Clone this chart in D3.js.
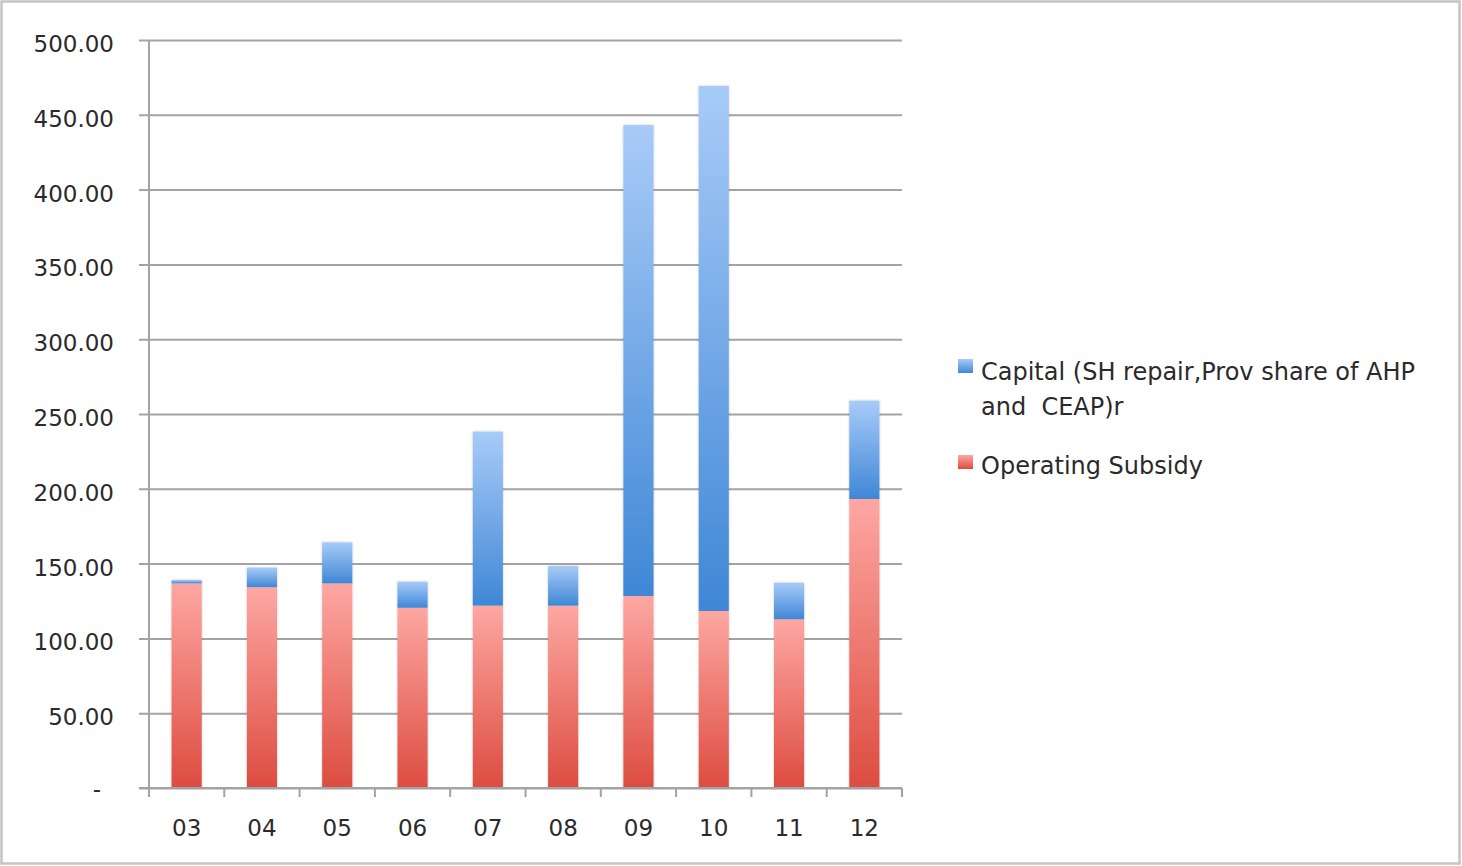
<!DOCTYPE html>
<html>
<head>
<meta charset="utf-8">
<script src="https://cdn.jsdelivr.net/npm/d3@7"></script>
<style>
  html, body { margin: 0; padding: 0; background: #fff; }
  svg { display: block; }
  text { font-family: "DejaVu Sans", sans-serif; fill: #2a2a2a; white-space: pre; }
</style>
</head>
<body>
<svg id="chart" width="1462" height="866"></svg>
<script>
const categories = ["03", "04", "05", "06", "07", "08", "09", "10", "11", "12"];
const operatingSubsidy = [136.8, 134.2, 136.8, 120.5, 121.9, 121.9, 128.3, 118.3, 112.8, 193.2];
const capital = [2.2, 13.1, 27.4, 17.4, 116.3, 26.5, 314.9, 351.0, 24.4, 65.7];
const yTicks = [0, 50, 100, 150, 200, 250, 300, 350, 400, 450, 500];
const seriesNames = ["Capital (SH repair,Prov share of AHP", "and  CEAP)r"];
const seriesName2 = "Operating Subsidy";

(function () {
const svg = d3.select("#chart");
const W = 1462, H = 866;

// outer frame
svg.append("rect").attr("x", 1.5).attr("y", 1.5).attr("width", W - 4).attr("height", H - 4)
  .attr("fill", "#fff").attr("stroke", "#c4c4c4").attr("stroke-width", 2.5);

const mLeft = 149, mRight = 902, mTop = 40, mBottom = 788;

const x = d3.scaleBand().domain(categories).range([mLeft, mRight]).paddingInner(0.6).paddingOuter(0.3);
const xb = d3.scaleBand().domain(categories).range([mLeft, mRight]).padding(0);
const y = d3.scaleLinear().domain([0, 500]).range([mBottom, mTop]);

const defs = svg.append("defs");
function grad(id, c1, c2) {
  const g = defs.append("linearGradient").attr("id", id).attr("x1", 0).attr("y1", 0).attr("x2", 0).attr("y2", 1);
  g.append("stop").attr("offset", "0%").attr("stop-color", c1);
  g.append("stop").attr("offset", "100%").attr("stop-color", c2);
}
grad("gRed", "#fda7a2", "#dd4c40");
grad("gBlue", "#a8cbf8", "#3f87d6");
const flt = defs.append("filter").attr("id", "sh").attr("x", "-20%").attr("y", "-5%").attr("width", "140%").attr("height", "110%");
flt.append("feGaussianBlur").attr("in", "SourceAlpha").attr("stdDeviation", 1.2).attr("result", "b");
flt.append("feComponentTransfer").attr("in", "b").attr("result", "o2").append("feFuncA").attr("type", "linear").attr("slope", 0.25);
const fm = flt.append("feMerge");
fm.append("feMergeNode").attr("in", "o2");
fm.append("feMergeNode").attr("in", "SourceGraphic");

// gridlines + y labels
const yAxis = d3.axisLeft(y).tickValues(yTicks).tickSize(-(mRight - mLeft)).tickSizeOuter(0)
  .tickFormat(d => d === 0 ? "-" : d3.format(".2f")(d));
const gy = svg.append("g").attr("transform", `translate(${mLeft},0)`).call(yAxis);
gy.select(".domain").remove();
gy.selectAll(".tick line").attr("x1", -10).attr("stroke", "#a3a3a3").attr("stroke-width", 2);
gy.selectAll(".tick text").attr("x", -35).attr("dy", "0.5em")
  .style("font-family", "DejaVu Sans").style("font-size", "23px").attr("fill", "#2a2a2a");
gy.selectAll(".tick").filter(d => d === 0).select("text").attr("x", -48).attr("dy", "0.35em");

// y axis line
svg.append("line").attr("x1", mLeft).attr("x2", mLeft).attr("y1", mTop).attr("y2", mBottom + 9)
  .attr("stroke", "#a3a3a3").attr("stroke-width", 2);

// bars
const stacked = categories.map((c, i) => ({ c, op: operatingSubsidy[i], cap: capital[i] }));
const gBars = svg.append("g").attr("filter", "url(#sh)");
gBars.selectAll("rect.op").data(stacked).join("rect").attr("class", "op")
  .attr("x", d => x(d.c)).attr("width", x.bandwidth())
  .attr("y", d => y(d.op)).attr("height", d => y(0) - y(d.op))
  .attr("fill", "url(#gRed)");
gBars.selectAll("rect.cap").data(stacked).join("rect").attr("class", "cap")
  .attr("x", d => x(d.c)).attr("width", x.bandwidth())
  .attr("y", d => y(d.op + d.cap)).attr("height", d => y(d.op) - y(d.op + d.cap))
  .attr("fill", "url(#gBlue)");

// x axis
const xAxis = d3.axisBottom(x).tickSize(0);
const gx = svg.append("g").attr("transform", `translate(0,${mBottom})`).call(xAxis);
gx.select(".domain").remove();
gx.selectAll(".tick text").attr("y", 48).attr("dy", "0")
  .style("font-family", "DejaVu Sans").style("font-size", "23px").attr("fill", "#2a2a2a");
svg.append("line").attr("x1", mLeft - 10).attr("x2", mRight).attr("y1", mBottom).attr("y2", mBottom)
  .attr("stroke", "#a3a3a3").attr("stroke-width", 2);
svg.selectAll("line.xt").data(categories.concat(["end"])).join("line").attr("class", "xt")
  .attr("x1", (d, i) => i < categories.length ? xb(d) : mRight)
  .attr("x2", (d, i) => i < categories.length ? xb(d) : mRight)
  .attr("y1", mBottom).attr("y2", mBottom + 9)
  .attr("stroke", "#a3a3a3").attr("stroke-width", 2);

// legend
const lg = svg.append("g");
lg.append("rect").attr("x", 958).attr("y", 359).attr("width", 15).attr("height", 14).attr("fill", "url(#gBlue)");
lg.append("text").attr("x", 981).attr("y", 380).style("font-size", "24px").text(seriesNames[0]);
lg.append("text").attr("x", 981).attr("y", 415).style("font-size", "24px").text(seriesNames[1]);
lg.append("rect").attr("x", 958).attr("y", 455).attr("width", 15).attr("height", 14).attr("fill", "url(#gRed)");
lg.append("text").attr("x", 981).attr("y", 474).style("font-size", "24px").text(seriesName2);
})();
</script>
</body>
</html>
